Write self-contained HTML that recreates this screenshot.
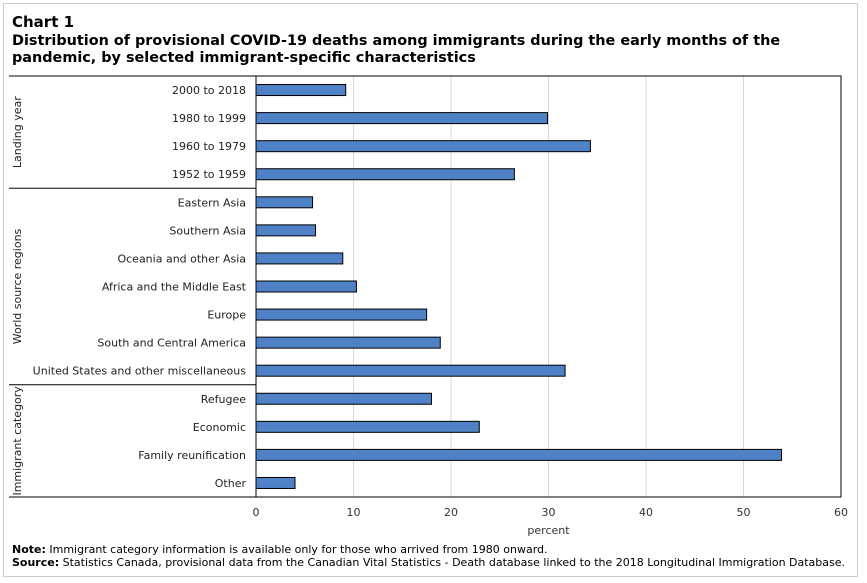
<!DOCTYPE html>
<html><head><meta charset="utf-8"><style>
body{margin:0;background:#fff;font-family:"DejaVu Sans","Liberation Sans",sans-serif;}
#frame{position:absolute;left:3px;top:3px;width:853px;height:572px;border:1px solid #ccc;}
.t{position:absolute;left:12px;font-weight:bold;color:#000;font-size:14.4px;line-height:17px;font-family:"DejaVu Sans",sans-serif;}
.foot{position:absolute;left:12px;font-size:11px;color:#000;line-height:13px;}
</style></head><body>
<div id="frame"></div>
<div class="t" style="top:14px;font-size:15px">Chart 1</div>
<div class="t" style="top:33px;width:820px">Distribution of provisional COVID-19 deaths among immigrants during the early months of the pandemic, by selected immigrant-specific characteristics</div>
<svg id="chart" width="867" height="583" style="position:absolute;left:0;top:0"></svg>
<div class="foot" style="top:543px"><b>Note:</b> Immigrant category information is available only for those who arrived from 1980 onward.</div>
<div class="foot" style="top:556px"><b>Source:</b> Statistics Canada, provisional data from the Canadian Vital Statistics - Death database linked to the 2018 Longitudinal Immigration Database.</div>
<script>
const categories=["2000 to 2018","1980 to 1999","1960 to 1979","1952 to 1959","Eastern Asia","Southern Asia","Oceania and other Asia","Africa and the Middle East","Europe","South and Central America","United States and other miscellaneous","Refugee","Economic","Family reunification","Other"];
const values=[9.2,29.9,34.3,26.5,5.8,6.1,8.9,10.3,17.5,18.9,31.7,18.0,22.9,53.9,4.0];
const ticks=[0,10,20,30,40,50,60];
const groups=[{label:"Landing year",start:0,end:4},{label:"World source regions",start:4,end:11},{label:"Immigrant category",start:11,end:15}];
const svg=document.getElementById('chart');const NS="http://www.w3.org/2000/svg";
const L=256,R=841,T=76,B=497;
const x=v=>L+(v-0)/(60-0)*(R-L);
const rowH=(B-T)/categories.length;
const y=i=>T+rowH*(i+0.5);
function mk(t,a,txt){const e=document.createElementNS(NS,t);for(const k in a)e.setAttribute(k,a[k]);if(txt!==undefined)e.textContent=txt;svg.appendChild(e);return e;}
ticks.forEach(t=>{if(t>0&&t<60){const g=mk('line',{x1:x(t),x2:x(t),y1:T,y2:B,stroke:'#d9d9d9'});

}
const l=mk('text',{x:x(t),y:516,'text-anchor':'middle','font-size':11,fill:'#333','font-family':'DejaVu Sans,sans-serif'},t);

});
categories.forEach((c,i)=>{const b=mk('rect',{x:x(0),y:y(i)-5.5,width:x(values[i])-x(0),height:11,fill:'#4f81c7',stroke:'#000','stroke-width':1});


const l=mk('text',{x:246,y:y(i)+4,'text-anchor':'end','font-size':11,fill:'#222','font-family':'DejaVu Sans,sans-serif'},c);

});
const fr=mk('rect',{x:L,y:T,width:R-L,height:B-T,fill:'none',stroke:'#000','stroke-width':1});


const tl=mk('line',{x1:9,x2:L,y1:T,y2:T,stroke:'#000'});


groups.forEach((g,k)=>{const yt=T+g.start*rowH,yb=T+g.end*rowH;
const ln=mk('line',{x1:9,x2:L,y1:yb,y2:yb,stroke:'#000'});


const cy=(yt+yb)/2;
const tx=mk('text',{x:0,y:0,transform:`translate(21,${cy}) rotate(-90)`,'text-anchor':'middle','font-size':11,fill:'#222','font-family':'DejaVu Sans,sans-serif'},g.label);

});
const xt=mk('text',{x:(L+R)/2,y:534,'text-anchor':'middle','font-size':11,fill:'#333','font-family':'DejaVu Sans,sans-serif'},'percent');


</script>
</body></html>
